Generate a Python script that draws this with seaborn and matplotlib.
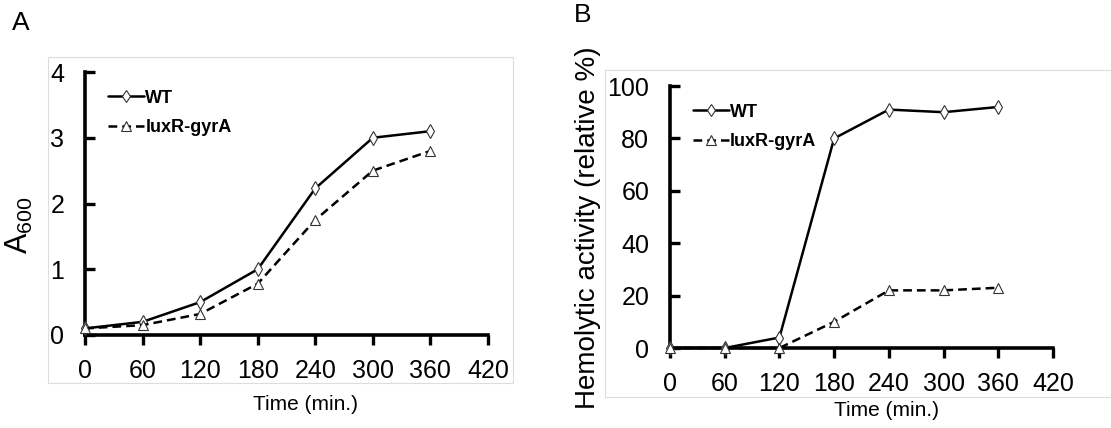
import numpy as np
import pandas as pd
import matplotlib
matplotlib.use('Agg')
import matplotlib.pyplot as plt
import seaborn as sns
from matplotlib.patches import Rectangle
from matplotlib.lines import Line2D

sns.set_style('white')
plt.rcParams['font.family'] = ['Liberation Sans', 'DejaVu Sans']
plt.rcParams['mathtext.default'] = 'regular'
for k in ['text.color', 'axes.labelcolor', 'xtick.color', 'ytick.color']:
    plt.rcParams[k] = 'black'

time = [0, 60, 120, 180, 240, 300, 360]
strains = ['WT', 'luxR-gyrA']

# panel A: growth (A600)
a600_wt = [0.1, 0.2, 0.5, 1.0, 2.23, 3.0, 3.1]
a600_lux = [0.1, 0.15, 0.32, 0.78, 1.75, 2.5, 2.8]

# panel B: hemolytic activity (relative %)
hemo_wt = [0, 0, 4, 80, 91, 90, 92]
hemo_lux = [0, 0, 0, 10, 22, 22, 23]

dfa = pd.DataFrame({'time': time * 2, 'value': a600_wt + a600_lux,
                    'strain': [strains[0]] * 7 + [strains[1]] * 7})
dfb = pd.DataFrame({'time': time * 2, 'value': hemo_wt + hemo_lux,
                    'strain': [strains[0]] * 7 + [strains[1]] * 7})

fig = plt.figure(figsize=(11.11, 4.28), dpi=100)

# light frames around each panel
fig.patches.append(Rectangle((48 / 1111, 1 - 383 / 428), (513 - 48) / 1111, (383 - 57) / 428,
                             transform=fig.transFigure, fill=False, ec='#dddddd', lw=0.8))
fig.patches.append(Rectangle((605 / 1111, 1 - 397 / 428), (1111 - 605) / 1111, (397 - 70) / 428,
                             transform=fig.transFigure, fill=False, ec='#dddddd', lw=0.8))

axA = fig.add_axes([85 / 1111, 1 - 335 / 428, (488 - 85) / 1111, (335 - 72) / 428])
axB = fig.add_axes([670 / 1111, 1 - 348 / 428, (1053 - 670) / 1111, (348 - 86) / 428])

mk = dict(mfc='white', mec='#333333', mew=0.8)


def draw(ax, df, ymax, ystep, leg_y):
    sns.lineplot(data=df, x='time', y='value', hue='strain', style='strain',
                 palette=['black', 'black'], markers={'WT': 'd', 'luxR-gyrA': '^'},
                 dashes={'WT': '', 'luxR-gyrA': (3.5, 2)}, markersize=7,
                 markerfacecolor='white', markeredgecolor='#333333', markeredgewidth=0.8,
                 linewidth=1.8, ax=ax, legend=False, zorder=3, clip_on=False)
    ax.set_xlim(0, 420)
    ax.set_ylim(0, ymax)
    ax.set_xticks(range(0, 421, 60))
    yt = np.arange(0, ymax + 0.001, ystep)
    ax.set_yticks(yt)
    ax.set_yticklabels([f'{v:g}' for v in yt])
    for s in ['top', 'right']:
        ax.spines[s].set_visible(False)
    for s in ['left', 'bottom']:
        ax.spines[s].set_linewidth(2.6)
        ax.spines[s].set_color('black')
    ax.tick_params(axis='x', direction='out', length=7, width=2.4, labelsize=18, pad=10)
    ax.tick_params(axis='y', direction='in', length=7, width=2.4, labelsize=18, pad=15)
    ax.tick_params(bottom=True, left=True)
    ax.set_xlabel('Time (min.)', fontsize=15)
    ax.set_facecolor('none')
    h = [Line2D([], [], color='black', lw=1.8, marker='d', ms=6.5, **mk),
         Line2D([], [], color='black', lw=1.8, ls=(0, (3.5, 2)), marker='^', ms=6.5, **mk)]
    ax.legend(h, strains, loc='upper left', bbox_to_anchor=(0.04, leg_y), frameon=False,
              prop={'weight': 'bold', 'size': 13}, handlelength=2.0, handletextpad=0.05,
              labelspacing=0.7, borderaxespad=0.0)


draw(axA, dfa, 4, 1, 0.96)
draw(axB, dfb, 100, 20, 0.96)

axA.xaxis.set_label_coords((306 - 85) / (488 - 85), -(405 - 335) / (335 - 72), transform=axA.transAxes)
axB.xaxis.set_label_coords((886 - 670) / (1053 - 670), -(410 - 348) / (348 - 86), transform=axB.transAxes)
axA.xaxis.label.set_va('center')
axB.xaxis.label.set_va('center')

axA.set_ylabel('')
axB.set_ylabel('')
fig.text(19 / 1111, 1 - 225 / 428, 'A$_{600}$', fontsize=22, rotation=90, va='center', ha='center')
fig.text(588 / 1111, 1 - 228 / 428, 'Hemolytic activity (relative %)', fontsize=20,
         rotation=90, va='center', ha='center')

fig.text(21 / 1111, 1 - 23 / 428, 'A', fontsize=19, va='center', ha='center')
fig.text(583 / 1111, 1 - 15 / 428, 'B', fontsize=19, va='center', ha='center')

fig.savefig('out.png', dpi=100)
